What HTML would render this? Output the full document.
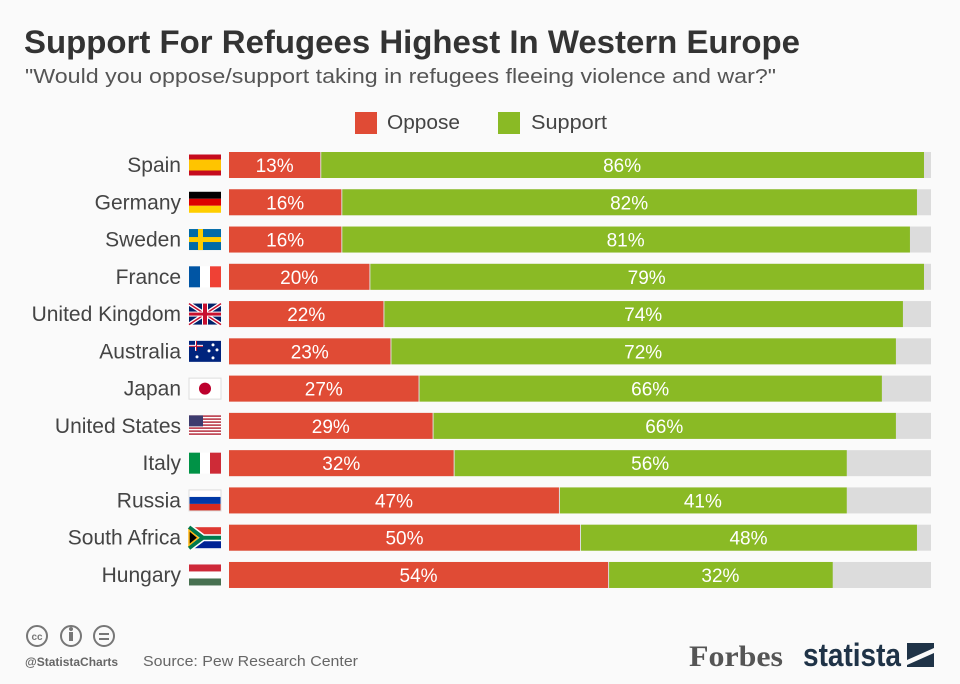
<!DOCTYPE html>
<html><head><meta charset="utf-8"><style>
body{margin:0;background:#fafafa;font-family:"Liberation Sans",sans-serif;}
svg{display:block}
</style></head><body>
<svg id="chart" width="960" height="684" xmlns="http://www.w3.org/2000/svg">
<rect width="960" height="684" fill="#fafafa"/>
<text x="24" y="53" font-size="32" font-weight="bold" fill="#333" textLength="776" lengthAdjust="spacingAndGlyphs">Support For Refugees Highest In Western Europe</text>
<text x="25" y="83" font-size="20" fill="#555" textLength="751" lengthAdjust="spacingAndGlyphs">"Would you oppose/support taking in refugees fleeing violence and war?"</text>
<g>
<rect x="355" y="112" width="22" height="22" fill="#e04b35"/>
<text x="387" y="129" font-size="20" fill="#444" textLength="73" lengthAdjust="spacingAndGlyphs">Oppose</text>
<rect x="498" y="112" width="22" height="22" fill="#8aba25"/>
<text x="531" y="129" font-size="20" fill="#444" textLength="76" lengthAdjust="spacingAndGlyphs">Support</text>
</g>
<g id="bars"></g>
<g>
<circle cx="37" cy="636" r="10" fill="none" stroke="#777" stroke-width="2"/>
<text x="37" y="640" font-size="10" font-weight="bold" fill="#777" text-anchor="middle">cc</text>
<circle cx="71" cy="636" r="10" fill="none" stroke="#777" stroke-width="2"/>
<rect x="69" y="632" width="4" height="9" fill="#777"/><circle cx="71" cy="629" r="2" fill="#777"/>
<circle cx="104" cy="636" r="10" fill="none" stroke="#777" stroke-width="2"/>
<rect x="99" y="633" width="10" height="2" fill="#777"/><rect x="99" y="638" width="10" height="2" fill="#777"/>
<text x="25" y="666" font-size="12" font-weight="bold" fill="#666">@StatistaCharts</text>
<text x="143" y="666" font-size="15" fill="#666" textLength="215" lengthAdjust="spacingAndGlyphs">Source: Pew Research Center</text>
<text x="689" y="666" font-size="30" font-weight="bold" font-family="Liberation Serif,serif" fill="#555" textLength="94" lengthAdjust="spacingAndGlyphs">Forbes</text>
<text x="803" y="666" font-size="32" font-weight="bold" fill="#1f3347" textLength="98" lengthAdjust="spacingAndGlyphs">statista</text>
<rect x="907" y="643" width="27" height="24" fill="#1f3347"/>
<path d="M907 660 L934 648 L934 653 L907 665Z" fill="#fafafa"/>
</g>
</svg>
<script>
const countries=["Spain","Germany","Sweden","France","United Kingdom","Australia","Japan","United States","Italy","Russia","South Africa","Hungary"];
const oppose=[13,16,16,20,22,23,27,29,32,47,50,54];
const support=[86,82,81,79,74,72,66,66,56,41,48,32];
const NS="http://www.w3.org/2000/svg";
const x0=229,W=702,y0=152,step=37.27,bh=26;
const xs=v=>v/100*W;
const g=document.getElementById('bars');
function el(t,a,p){const e=document.createElementNS(NS,t);for(const k in a)e.setAttribute(k,a[k]);(p||g).appendChild(e);return e;}
function flag(i,x,y){
 const n=countries[i],w=32,h=21;const f=el('g',{});
 
 
 const r=(a,b,c,d,col)=>el('rect',{x:x+a,y:y+b,width:c,height:d,fill:col},f);
 switch(n){
 case"Spain":r(0,0,w,h,'#c60b1e');r(0,5,w,11,'#ffc400');break;
 case"Germany":r(0,0,w,7,'#000');r(0,7,w,7,'#dd0000');r(0,14,w,7,'#ffce00');break;
 case"Sweden":r(0,0,w,h,'#006aa7');r(9,0,5,h,'#fecc00');r(0,8,w,5,'#fecc00');break;
 case"France":r(0,0,11,h,'#0055a4');r(11,0,10,h,'#fff');r(21,0,11,h,'#ef4135');break;
 case"United Kingdom":r(0,0,w,h,'#012169');el('path',{d:`M${x} ${y}L${x+w} ${y+h}M${x+w} ${y}L${x} ${y+h}`,stroke:'#fff','stroke-width':4},f);el('path',{d:`M${x} ${y}L${x+w} ${y+h}M${x+w} ${y}L${x} ${y+h}`,stroke:'#c8102e','stroke-width':1.5},f);r(13,0,6,h,'#fff');r(0,8,w,5,'#fff');r(14,0,4,h,'#c8102e');r(0,9,w,3,'#c8102e');break;
 case"Australia":r(0,0,w,h,'#00247d');r(0,4,14,2,'#fff');r(6,0,2,10,'#fff');r(7,0,1,10,'#c8102e');r(0,5,14,1,'#c8102e');[[24,4],[20,10],[28,9],[24,17],[8,16]].forEach(p=>el('circle',{cx:x+p[0],cy:y+p[1],r:1.5,fill:'#fff'},f));break;
 case"Japan":r(0,0,w,h,'#fff');el('circle',{cx:x+16,cy:y+10.5,r:6,fill:'#bc002d'},f);el('rect',{x:x,y:y,width:w,height:h,fill:'none',stroke:'#ddd'},f);break;
 case"United States":for(let k=0;k<7;k++){r(0,k*3,w,1.5,'#b22234');r(0,k*3+1.5,w,1.5,'#fff');}r(0,0,14,11,'#3c3b6e');break;
 case"Italy":r(0,0,11,h,'#009246');r(11,0,10,h,'#fff');r(21,0,11,h,'#ce2b37');break;
 case"Russia":r(0,0,w,7,'#fff');r(0,7,w,7,'#0039a6');r(0,14,w,7,'#d52b1e');el('rect',{x:x,y:y,width:w,height:h,fill:'none',stroke:'#ddd'},f);break;
 case"South Africa":r(0,0,w,10.5,'#de3831');r(0,10.5,w,10.5,'#002395');el('path',{d:`M${x} ${y}L${x+14} ${y+10.5}L${x+w} ${y+10.5}M${x} ${y+h}L${x+14} ${y+10.5}`,stroke:'#fff','stroke-width':7,fill:'none'},f);el('path',{d:`M${x} ${y}L${x+14} ${y+10.5}L${x+w} ${y+10.5}M${x} ${y+h}L${x+14} ${y+10.5}`,stroke:'#007a4d','stroke-width':4,fill:'none'},f);el('path',{d:`M${x} ${y+3}L${x+9} ${y+10.5}L${x} ${y+18}Z`,fill:'#000',stroke:'#ffb612','stroke-width':1.5},f);break;
 case"Hungary":r(0,0,w,7,'#ce2939');r(0,7,w,7,'#fff');r(0,14,w,7,'#477050');break;
 }
}
countries.forEach((c,i)=>{
 const y=y0+i*step;
 const t=el('text',{x:181,y:y+20,'font-size':21,fill:'#444','text-anchor':'end'});t.textContent=c;
 
 
 flag(i,189,y+2.5);
 const bg=el('rect',{x:x0,y:y,width:W,height:bh,fill:'#dcdcdc'});
 
 
 const o=el('rect',{x:x0,y:y,width:xs(oppose[i]),height:bh,fill:'#e04b35'});
 
 
 const s=el('rect',{x:x0+xs(oppose[i])+1,y:y,width:xs(support[i])-1,height:bh,fill:'#8aba25'});
 
 
 const to=el('text',{x:x0+xs(oppose[i])/2,y:y+20,'font-size':19,fill:'#fff','text-anchor':'middle'});to.textContent=oppose[i]+'%';
 
 
 const ts=el('text',{x:x0+xs(oppose[i])+xs(support[i])/2,y:y+20,'font-size':19,fill:'#fff','text-anchor':'middle'});ts.textContent=support[i]+'%';
 
 
});
</script>
</body></html>
